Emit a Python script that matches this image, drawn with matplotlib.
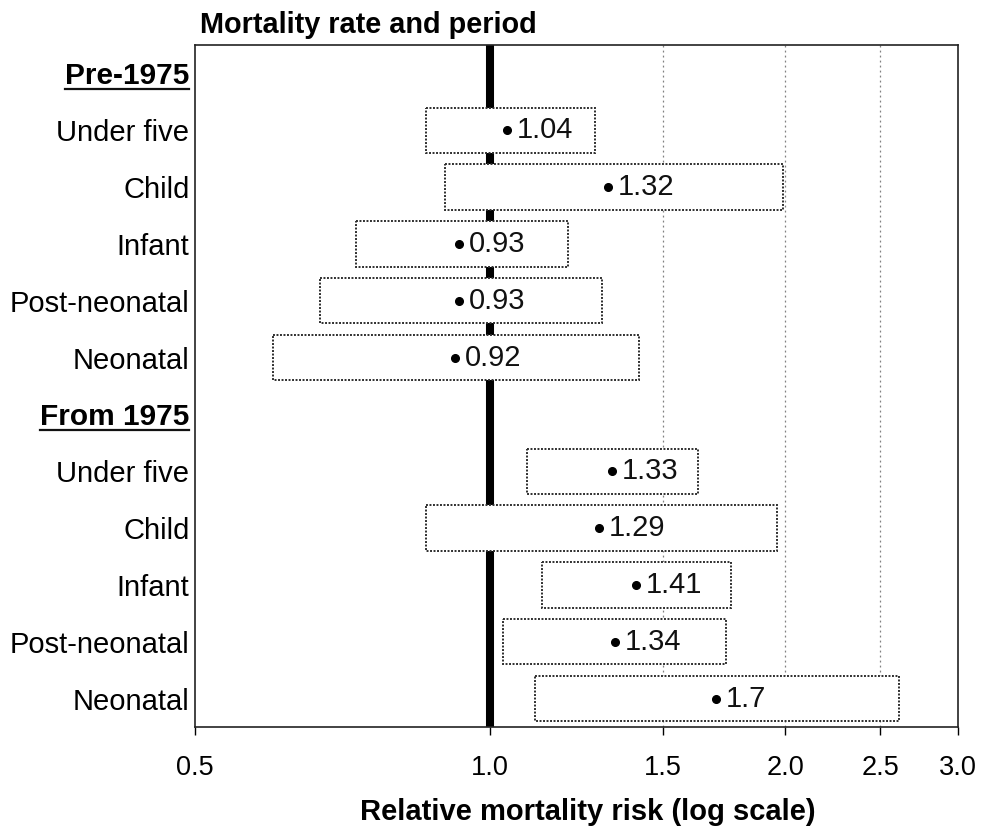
import matplotlib
matplotlib.use("Agg")
import matplotlib.pyplot as plt
from matplotlib.lines import Line2D
from matplotlib.ticker import FixedLocator, NullLocator

plt.rcParams['font.family'] = ['Liberation Sans', 'DejaVu Sans']

# Relative mortality risk with 95% intervals, by period
periods = ["Pre-1975", "From 1975"]
categories = ["Under five", "Child", "Infant", "Post-neonatal", "Neonatal"]

pre_rr = [1.04, 1.32, 0.93, 0.93, 0.92]
pre_lo = [0.86, 0.90, 0.73, 0.67, 0.60]
pre_hi = [1.28, 1.99, 1.20, 1.30, 1.42]

post_rr = [1.33, 1.29, 1.41, 1.34, 1.70]
post_lo = [1.09, 0.86, 1.13, 1.03, 1.11]
post_hi = [1.63, 1.96, 1.76, 1.74, 2.61]

x_ticks = [0.5, 1.0, 1.5, 2.0, 2.5, 3.0]
grid_lines = [1.5, 2.0, 2.5]

fig = plt.figure(figsize=(10.01, 8.30), dpi=100)
ax = fig.add_axes([195 / 1001, 1 - 727 / 830, (958 - 195) / 1001, (727 - 45) / 830])

ax.set_xscale('log')
ax.set_xlim(0.5, 3.0)

# Row layout: a header row for each period followed by its categories
labels, rows = [], []
for period, rr, lo, hi in [(periods[0], pre_rr, pre_lo, pre_hi),
                           (periods[1], post_rr, post_lo, post_hi)]:
    labels.append(period)
    rows.append(None)
    for cat, r, l, h in zip(categories, rr, lo, hi):
        labels.append(cat)
        rows.append((r, l, h))

n = len(labels)
ax.set_ylim(n - 0.5, -0.5)

for g in grid_lines:
    ax.axvline(g, color='#808080', lw=0.9, ls=(0, (1.5, 2.5)), zorder=1)
ax.axvline(1.0, color='black', lw=5.8, zorder=2)

box_h = 0.80
for i, row in enumerate(rows):
    if row is None:
        continue
    r, l, h = row
    ax.add_patch(plt.Rectangle((l, i - box_h / 2), h - l, box_h,
                               facecolor='white', edgecolor='#2e2e2e',
                               lw=1.4, ls=(0, (1.0, 0.8)), zorder=3))
    ax.plot([r], [i], 'o', color='black', ms=5.5, zorder=4)
    ax.annotate(f"{r:g}", xy=(r, i), xytext=(7, 0), textcoords='offset points',
                ha='left', va='center', fontsize=21, color='#111111', zorder=5)

ax.yaxis.set_major_locator(FixedLocator(range(n)))
ax.set_yticklabels(labels)
ax.tick_params(axis='y', length=0, pad=4, labelsize=21)
header_labels = []
for t, lab in zip(ax.get_yticklabels(), labels):
    if lab in periods:
        t.set_fontweight('bold')
        t.set_fontsize(21.5)
        header_labels.append(t)

ax.xaxis.set_major_locator(FixedLocator(x_ticks))
ax.xaxis.set_minor_locator(NullLocator())
ax.set_xticklabels([f"{v:.1f}" for v in x_ticks])
ax.tick_params(axis='x', direction='out', length=6, width=1, pad=14, labelsize=19.5)

for s in ax.spines.values():
    s.set_linewidth(1.2)
    s.set_color('#222222')

fig.text(200 / 1001, 1 - 25 / 830, "Mortality rate and period", fontsize=20.8,
         fontweight='bold', ha='left', va='center')
fig.text(588 / 1001, 1 - 812 / 830, "Relative mortality risk (log scale)",
         fontsize=21, fontweight='bold', ha='center', va='center')

# Underline the period headers
fig.canvas.draw()
W, H = fig.bbox.width, fig.bbox.height
for t in header_labels:
    bb = t.get_window_extent()
    y = bb.y0 + 1.5
    fig.add_artist(Line2D([bb.x0 / W, bb.x1 / W], [y / H, y / H],
                          transform=fig.transFigure, color='#111111', lw=1.6))

fig.savefig("out.png", dpi=100)
